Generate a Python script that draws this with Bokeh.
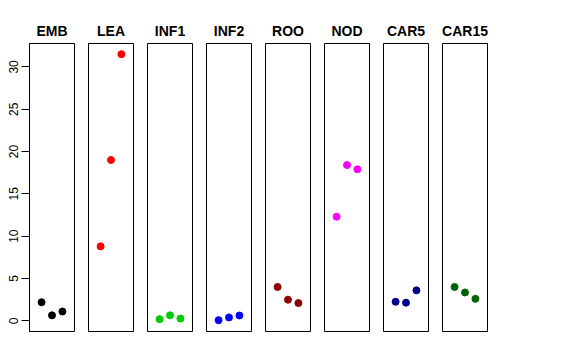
from bokeh.plotting import figure
from bokeh.layouts import row
from bokeh.models import Range1d, FixedTicker
from bokeh.embed import file_html
from bokeh.resources import INLINE

panels = ["EMB", "LEA", "INF1", "INF2", "ROO", "NOD", "CAR5", "CAR15"]
colors = ["#000000", "#FF0000", "#00CD00", "#0000FF", "#8B0000", "#FF00FF", "#00008B", "#006400"]
positions = [1, 2, 3]
values = {
    "EMB": [2.2, 0.65, 1.1],
    "LEA": [8.8, 19.0, 31.5],
    "INF1": [0.2, 0.65, 0.27],
    "INF2": [0.08, 0.4, 0.63],
    "ROO": [4.0, 2.5, 2.1],
    "NOD": [12.3, 18.4, 17.9],
    "CAR5": [2.25, 2.15, 3.6],
    "CAR15": [4.0, 3.35, 2.6],
}
y_ticks = [0, 5, 10, 15, 20, 25, 30]

figs = []
for i, name in enumerate(panels):
    first = i == 0
    p = figure(
        frame_width=45, frame_height=288,
        x_range=Range1d(-0.16, 4.16), y_range=Range1d(-1.26, 32.76),
        x_axis_type=None, y_axis_type="linear" if first else None,
        output_backend="svg", toolbar_location=None,
        min_border_left=29 if first else 7, min_border_right=7,
        min_border_top=43, min_border_bottom=10,
        background_fill_color="white", border_fill_color="white",
    )
    p.outline_line_color = "black"
    p.outline_line_width = 1
    p.outline_line_alpha = 1
    p.xgrid.visible = False
    p.ygrid.visible = False
    p.title.text = name
    p.title.align = "center"
    p.title.text_font = "Liberation Sans"
    p.title.text_font_size = "14px"
    p.title.text_font_style = "bold"
    p.title.text_color = "black"
    p.title.standoff = 9
    if first:
        ax = p.yaxis[0]
        ax.ticker = FixedTicker(ticks=y_ticks)
        ax.minor_tick_line_color = None
        ax.axis_line_color = "black"
        ax.major_tick_line_color = "black"
        ax.major_tick_out = 8
        ax.major_tick_in = 0
        ax.major_label_orientation = "vertical"
        ax.major_label_text_font = "Liberation Sans"
        ax.major_label_text_font_size = "12px"
        ax.major_label_text_color = "black"
        ax.major_label_standoff = 3
    p.scatter(positions, values[name], size=7, color=colors[i], line_color=colors[i])
    figs.append(p)

layout = row(*figs, spacing=0)
open("out.html", "w").write(file_html(layout, INLINE))
